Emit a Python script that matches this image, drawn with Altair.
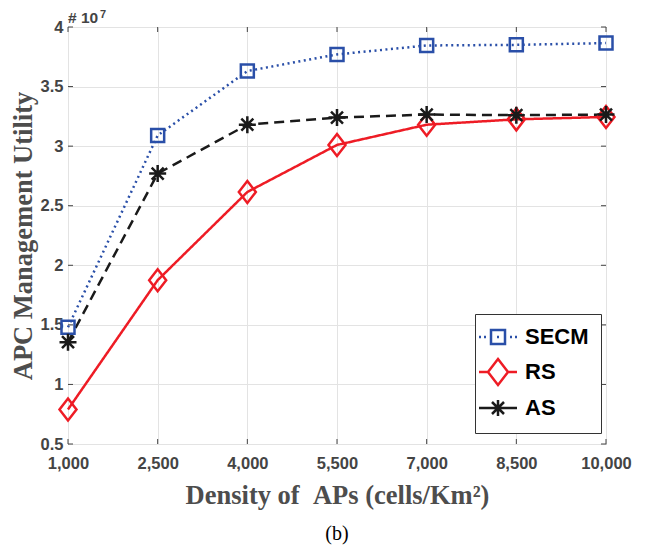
import altair as alt
import pandas as pd

density = [1000, 2500, 4000, 5500, 7000, 8500, 10000]
secm = [1.48, 3.09, 3.63, 3.77, 3.845, 3.85, 3.865]
rs = [0.79, 1.875, 2.615, 3.01, 3.18, 3.225, 3.245]
as_vals = [1.355, 2.77, 3.18, 3.24, 3.265, 3.26, 3.265]
series = ["SECM", "RS", "AS"]
colors = ["#2a4fa8", "#ee1c25", "#1a1a1a"]
x_ticks = [1000, 2500, 4000, 5500, 7000, 8500, 10000]
y_ticks = [0.5, 1, 1.5, 2, 2.5, 3, 3.5, 4]

rows = []
for name, vals in zip(series, [secm, rs, as_vals]):
    for d, v in zip(density, vals):
        rows.append({"density": d, "utility": v, "series": name})
df = pd.DataFrame(rows)

W, H = 538, 417

# marker paths (unit = sqrt(size)/2 = 5 px at size 100)
sq = "M-1.3,-1.3L1.3,-1.3L1.3,1.3L-1.3,1.3Z"
dia = "M0,-2.2L1.7,0L0,2.2L-1.7,0Z"
ast = "M-1.7,0L1.7,0M0,-1.7L0,1.7M-1.2,-1.2L1.2,1.2M-1.2,1.2L1.2,-1.2"

# legend symbols: marker plus line sample
dots = "".join(f"M{c-0.2:.2f},0L{c+0.2:.2f},0" for c in [-3.6, -2.6, 0, 2.6, 3.6])
leg_sq = "M-1.4,-1.4L1.4,-1.4L1.4,1.4L-1.4,1.4Z" + dots
leg_dia = "M0,-2.6L2,0L0,2.6L-2,0ZM-3.8,0L-2,0M2,0L3.8,0"
leg_ast = "M-3.8,0L3.8,0M0,-1.6L0,1.6M-1.2,-1.2L1.2,1.2M-1.2,1.2L1.2,-1.2"

legend = alt.Legend(
    title=None, orient="none", legendX=407, legendY=287,
    fillColor="white", strokeColor="#333333", padding=12,
    symbolSize=100, symbolStrokeWidth=2.5, symbolOpacity=1,
    labelFont="Liberation Sans", labelFontSize=22, labelFontWeight="bold",
    labelColor="black", labelOffset=16, rowPadding=5,
)

x = alt.X("density:Q",
          scale=alt.Scale(domain=[1000, 10000], nice=False, zero=False),
          axis=alt.Axis(values=x_ticks, format=",d",
                        title="Density of\u00a0\u00a0APs (cells/Km²)",
                        grid=True, ticks=False, tickSize=0, domain=False, labelFlush=False,
                        labelPadding=11, titlePadding=11))
y = alt.Y("utility:Q",
          scale=alt.Scale(domain=[0.5, 4], nice=False, zero=False),
          axis=alt.Axis(values=y_ticks, format="~g", title="APC Management Utility",
                        grid=True, ticks=False, tickSize=0, domain=False, labelFlush=False,
                        labelPadding=5, titlePadding=3))

plot_color = alt.Color("series:N", scale=alt.Scale(domain=series, range=colors), legend=None)

lines = alt.Chart(df).mark_line(strokeWidth=2.5).encode(
    x=x, y=y, color=plot_color,
    strokeDash=alt.StrokeDash("series:N", scale=alt.Scale(domain=series, range=[[2, 3.5], [1, 0], [10, 6]]),
                              legend=None),
)
points = alt.Chart(df).mark_point(filled=False, size=100, strokeWidth=2.5, opacity=1).encode(
    x="density:Q", y="utility:Q", color=plot_color,
    shape=alt.Shape("series:N", scale=alt.Scale(domain=series, range=[sq, dia, ast]), legend=None),
)

legend_layer = alt.Chart(df).transform_filter("false").mark_point(
    filled=False, size=100, strokeWidth=2.5, opacity=1).encode(
    color=alt.Color("series:N", scale=alt.Scale(domain=series, range=colors), legend=legend),
    shape=alt.Shape("series:N", scale=alt.Scale(domain=series, range=[leg_sq, leg_dia, leg_ast]),
                    legend=legend),
)

xt = pd.DataFrame({"v": x_ticks})
yt = pd.DataFrame({"v": y_ticks})
tick_col = "#444444"
top_ticks = alt.Chart(xt).mark_rule(color=tick_col, strokeWidth=1).encode(
    x="v:Q", y=alt.value(0), y2=alt.value(5))
bot_ticks = alt.Chart(xt).mark_rule(color=tick_col, strokeWidth=1).encode(
    x="v:Q", y=alt.value(H), y2=alt.value(H - 5))
left_ticks = alt.Chart(yt).mark_rule(color=tick_col, strokeWidth=1).encode(
    y="v:Q", x=alt.value(0), x2=alt.value(5))
right_ticks = alt.Chart(yt).mark_rule(color=tick_col, strokeWidth=1).encode(
    y="v:Q", x=alt.value(W), x2=alt.value(W - 5))

ann = pd.DataFrame({"t": ["# 10"], "s": ["7"]})
exp_main = alt.Chart(ann).mark_text(font="Liberation Sans", fontWeight="bold", fontSize=15.5,
                                    color="#444444", align="left", baseline="alphabetic").encode(
    text="t:N", x=alt.value(0), y=alt.value(-4))
exp_sup = alt.Chart(ann).mark_text(font="Liberation Sans", fontWeight="bold", fontSize=11,
                                   color="#444444", align="left", baseline="alphabetic").encode(
    text="s:N", x=alt.value(32), y=alt.value(-9))

base = alt.layer(top_ticks, bot_ticks, left_ticks, right_ticks, lines, points, exp_main, exp_sup)

chart = alt.layer(base, legend_layer).resolve_scale(
    color="independent", shape="independent"
).properties(
    width=W, height=H,
    padding={"left": 60, "top": 19, "right": 35, "bottom": 101},
    autosize=alt.AutoSizeParams(type="none"),
    title=alt.TitleParams("(b)", orient="bottom", font="Liberation Serif", fontSize=20,
                          fontWeight="normal", color="black", offset=15, anchor="middle"),
).configure_view(
    stroke="#555555", strokeWidth=1
).configure_axis(
    gridColor="#e3e3e3", gridWidth=1,
    labelFont="Liberation Sans", labelFontWeight="bold", labelFontSize=16.5, labelColor="#444444",
    titleFont="Liberation Serif", titleFontWeight="bold", titleFontSize=26.5, titleColor="#4d4d4d",
)

chart.save("out.html", embed_options={"renderer": "svg", "actions": False})
